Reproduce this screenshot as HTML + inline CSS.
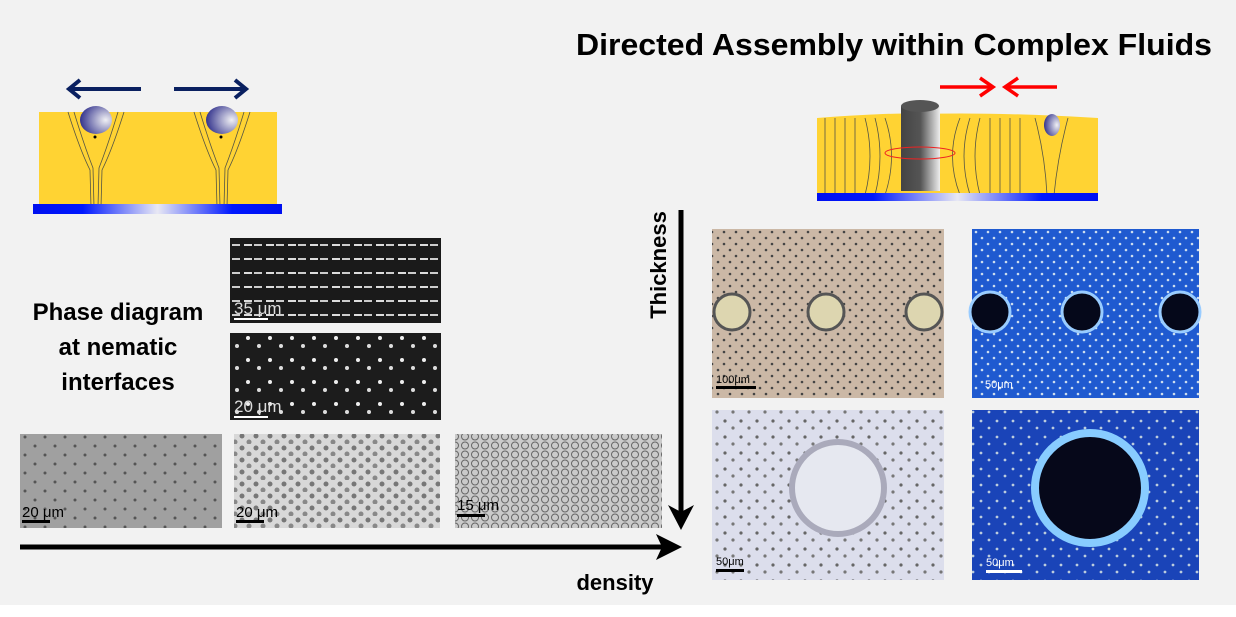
<!DOCTYPE html>
<html><head><meta charset="utf-8"><style>
html,body{margin:0;padding:0;background:#f2f2f2;}
svg{display:block;font-family:"Liberation Sans",Arial,sans-serif;}
</style></head><body>
<svg width="1236" height="617" viewBox="0 0 1236 617" xmlns="http://www.w3.org/2000/svg">
<defs>
<linearGradient id="bar" x1="0" x2="1"><stop offset="0" stop-color="#0010f0"/><stop offset="0.2" stop-color="#0018ff"/><stop offset="0.5" stop-color="#e8e8f4"/><stop offset="0.8" stop-color="#0018ff"/><stop offset="1" stop-color="#0010f0"/></linearGradient>
<radialGradient id="sph" cx="0.8" cy="0.5" r="0.9"><stop offset="0" stop-color="#f0f0f4"/><stop offset="1" stop-color="#1c1c80"/></radialGradient>
<linearGradient id="cyl" x1="0" x2="1"><stop offset="0" stop-color="#444"/><stop offset="0.5" stop-color="#555"/><stop offset="1" stop-color="#eee"/></linearGradient>
<pattern id="dk1" width="22" height="14" patternUnits="userSpaceOnUse"><rect width="22" height="14" fill="#1a1a1a"/><rect x="2" y="6" width="8" height="2" fill="#ddd"/><rect x="12" y="6" width="8" height="2" fill="#ccc"/></pattern>
<pattern id="dk2" width="22" height="22" patternUnits="userSpaceOnUse"><rect width="22" height="22" fill="#1c1c1c"/><circle cx="6" cy="8" r="2" fill="#eee"/><circle cx="17" cy="16" r="2" fill="#ddd"/></pattern>
<pattern id="g1" width="20" height="18" patternUnits="userSpaceOnUse"><rect width="20" height="18" fill="#a0a0a0"/><circle cx="5" cy="5" r="1.5" fill="#555"/><circle cx="15" cy="14" r="1.5" fill="#555"/></pattern>
<pattern id="g2" width="14" height="12" patternUnits="userSpaceOnUse"><rect width="14" height="12" fill="#d8d8d8"/><circle cx="4" cy="4" r="2.5" fill="#777"/><circle cx="11" cy="10" r="2.5" fill="#888"/></pattern>
<pattern id="g3" width="10" height="9" patternUnits="userSpaceOnUse"><rect width="10" height="9" fill="#cacaca"/><circle cx="5" cy="4.5" r="3.5" fill="none" stroke="#666" stroke-width="1"/></pattern>
<pattern id="b1" width="12" height="12" patternUnits="userSpaceOnUse"><rect width="12" height="12" fill="#cbb8a6"/><circle cx="4" cy="4" r="1.3" fill="#444"/><circle cx="10" cy="10" r="1.3" fill="#444"/></pattern>
<pattern id="bl" width="12" height="12" patternUnits="userSpaceOnUse"><rect width="12" height="12" fill="#1f5ad0"/><circle cx="4" cy="4" r="1.3" fill="#cde"/><circle cx="10" cy="10" r="1.3" fill="#cde"/></pattern>
<pattern id="lt" width="16" height="16" patternUnits="userSpaceOnUse"><rect width="16" height="16" fill="#dcdeec"/><circle cx="5" cy="5" r="1.6" fill="#666"/><circle cx="13" cy="12" r="1.6" fill="#777"/></pattern>
<pattern id="bd" width="16" height="16" patternUnits="userSpaceOnUse"><rect width="16" height="16" fill="#1a44b8"/><circle cx="5" cy="5" r="1.4" fill="#bcd"/><circle cx="13" cy="12" r="1.4" fill="#bcd"/></pattern>
</defs>
<rect x="0" y="605" width="1236" height="12" fill="#fff"/>

<text x="894" y="55" font-size="31" font-weight="bold" text-anchor="middle" textLength="636" lengthAdjust="spacingAndGlyphs" fill="#000">Directed Assembly within Complex Fluids</text>

<!-- left schematic -->
<rect x="39" y="112" width="238" height="95" fill="#ffd333"/>
<g fill="none" stroke="#554" stroke-width="0.8">
<path d="M68 112 Q80 150 90 170 L91 207 M74 112 Q84 145 93 168 L94 207 M124 112 Q112 150 102 170 L101 207 M118 112 Q108 145 99 168 L98 207"/>
<path d="M194 112 Q206 150 216 170 L217 207 M200 112 Q210 145 219 168 L220 207 M250 112 Q238 150 228 170 L227 207 M244 112 Q234 145 225 168 L224 207"/>
</g>
<rect x="33" y="204" width="249" height="10" fill="url(#bar)"/>
<ellipse cx="96" cy="120" rx="16" ry="14" fill="url(#sph)"/>
<ellipse cx="222" cy="120" rx="16" ry="14" fill="url(#sph)"/>
<circle cx="95" cy="137" r="1.5"/><circle cx="221" cy="137" r="1.5"/>
<g stroke="#0a2060" stroke-width="4" fill="none"><line x1="70" y1="89" x2="141" y2="89"/><polyline points="80,80 69,89 80,98"/><line x1="174" y1="89" x2="245" y2="89"/><polyline points="235,80 246,89 235,98"/></g>

<!-- right schematic -->
<path d="M817 118 Q900 112 920 114 Q1000 112 1098 118 L1098 195 L817 195 Z" fill="#ffd333"/>
<g fill="none" stroke="#554" stroke-width="0.8">
<path d="M825 118V195M835 118V195M845 118V195M855 118V195M865 118Q875 156 865 195M875 118Q885 156 875 195M885 118Q898 156 885 195M960 118Q945 156 960 195M970 118Q958 156 970 195M980 118Q970 156 980 195M990 118V195M1000 118V195M1010 118V195M1020 118V195M1035 118Q1045 155 1047 195M1068 118Q1058 155 1054 195"/>
</g>
<rect x="817" y="193" width="281" height="8" fill="url(#bar)"/>
<rect x="901" y="106" width="39" height="85" fill="url(#cyl)"/>
<ellipse cx="920" cy="106" rx="19" ry="6" fill="#555"/>
<ellipse cx="920" cy="153" rx="35" ry="6" fill="none" stroke="#e22" stroke-width="1"/>
<ellipse cx="1052" cy="125" rx="8" ry="11" fill="url(#sph)"/>
<g stroke="#f00" stroke-width="3.5" fill="none"><line x1="940" y1="87" x2="993" y2="87"/><polyline points="980,78 993,87 980,96"/><line x1="1005" y1="87" x2="1057" y2="87"/><polyline points="1018,78 1005,87 1018,96"/></g>

<!-- phase diagram text -->
<text font-size="24" font-weight="bold" text-anchor="middle" fill="#000"><tspan x="118" y="320">Phase diagram</tspan><tspan x="118" y="355">at nematic</tspan><tspan x="118" y="390">interfaces</tspan></text>

<!-- micrographs left -->
<rect x="230" y="238" width="211" height="85" fill="url(#dk1)"/>
<text x="234" y="314" font-size="17" fill="#ddd">35 μm</text><rect x="234" y="318" width="34" height="2" fill="#fff"/>
<rect x="230" y="333" width="211" height="87" fill="url(#dk2)"/>
<text x="234" y="412" font-size="17" fill="#ddd">20 μm</text><rect x="234" y="416" width="34" height="2" fill="#fff"/>
<rect x="20" y="434" width="202" height="94" fill="url(#g1)"/>
<text x="22" y="517" font-size="15" fill="#000">20 μm</text><rect x="22" y="520" width="28" height="3" fill="#000"/>
<rect x="234" y="434" width="206" height="94" fill="url(#g2)"/>
<text x="236" y="517" font-size="15" fill="#000">20 μm</text><rect x="236" y="520" width="28" height="3" fill="#000"/>
<rect x="455" y="434" width="207" height="94" fill="url(#g3)"/>
<text x="457" y="510" font-size="15" fill="#000">15 μm</text><rect x="457" y="514" width="28" height="3" fill="#000"/>

<!-- axes -->
<g stroke="#000" stroke-width="5" fill="none"><line x1="20" y1="547" x2="672" y2="547"/><line x1="681" y1="210" x2="681" y2="520"/></g>
<polygon points="682,547 656,534 662,547 656,560" fill="#000"/>
<polygon points="681,530 668,505 681,512 694,505" fill="#000"/>
<text x="615" y="590" font-size="22" font-weight="bold" text-anchor="middle">density</text>
<text transform="translate(666,265) rotate(-90)" font-size="22" font-weight="bold" text-anchor="middle">Thickness</text>

<!-- right photos -->
<rect x="712" y="229" width="232" height="169" fill="url(#b1)"/>
<g fill="#ddd6b0" stroke="#555" stroke-width="3"><circle cx="732" cy="312" r="18"/><circle cx="826" cy="312" r="18"/><circle cx="924" cy="312" r="18"/></g>
<text x="716" y="383" font-size="11" fill="#000">100μm</text><rect x="716" y="386" width="40" height="3" fill="#000"/>
<rect x="972" y="229" width="227" height="169" fill="url(#bl)"/>
<g fill="#05081a" stroke="#9cf" stroke-width="3"><circle cx="990" cy="312" r="20"/><circle cx="1082" cy="312" r="20"/><circle cx="1180" cy="312" r="20"/></g>
<text x="985" y="388" font-size="11" fill="#fff">50μm</text>
<rect x="712" y="410" width="232" height="170" fill="url(#lt)"/>
<circle cx="838" cy="488" r="46" fill="#e6e8f0" stroke="#aab" stroke-width="6"/>
<text x="716" y="565" font-size="11" fill="#000">50μm</text><rect x="716" y="569" width="28" height="3" fill="#000"/>
<rect x="972" y="410" width="227" height="170" fill="url(#bd)"/>
<circle cx="1090" cy="488" r="55" fill="#06081a" stroke="#8cf" stroke-width="8"/>
<text x="986" y="566" font-size="11" fill="#fff">50μm</text><rect x="986" y="570" width="36" height="3" fill="#fff"/>
</svg>
</body></html>
